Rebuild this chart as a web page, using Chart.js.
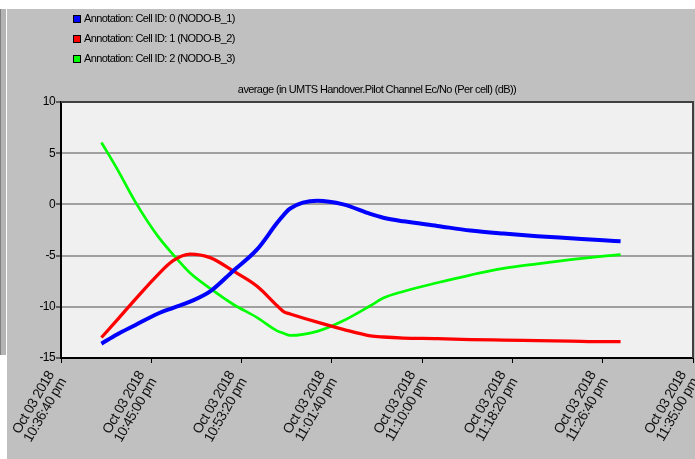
<!DOCTYPE html>
<html>
<head>
<meta charset="utf-8">
<script src="https://cdn.jsdelivr.net/npm/chart.js@4.4.1/dist/chart.umd.min.js"></script>
<style>
  html, body { margin: 0; padding: 0; background: #fff; }
  #wrap { position: relative; width: 695px; height: 459px; }
</style>
</head>
<body>
<div id="wrap"><canvas id="myLineChart" width="695" height="459"></canvas></div>
<script>
// dados (tempo em segundos desde a meia-noite, 03/10/2018)
const tempos = [81624, 81710, 81810, 81932, 82021, 82115, 82226, 82353, 82486, 82597, 82635, 82669,
  82819, 82963, 83113, 83185, 83296, 83484, 83667, 83850, 84038, 84221, 84404, 84499];

const cell0 = [-13.6, -12.7, -11.8, -10.7, -10.1, -9.5, -8.5, -6.5, -4.4, -1.8, -1.0, -0.4,
  0.35, 0.0, -0.93, -1.3, -1.65, -2.1, -2.55, -2.85, -3.1, -3.3, -3.5, -3.6];
const cell1 = [-13.0, -11.3, -9.3, -6.95, -5.5, -4.85, -5.2, -6.5, -8.0, -9.9, -10.5, -10.7,
  -11.5, -12.2, -12.83, -12.95, -13.05, -13.1, -13.2, -13.25, -13.3, -13.35, -13.4, -13.4];
const cell2 = [6.05, 3.5, 0.3, -3.0, -4.9, -6.7, -8.2, -9.75, -11.05, -12.35, -12.6, -12.8,
  -12.4, -11.37, -9.9, -9.15, -8.5, -7.65, -6.9, -6.25, -5.8, -5.4, -5.05, -4.9];

const nomes = ['Annotation: Cell ID: 0 (NODO-B_1)', 'Annotation: Cell ID: 1 (NODO-B_2)', 'Annotation: Cell ID: 2 (NODO-B_3)'];
const titulo = 'average (in UMTS Handover.Pilot Channel Ec/No (Per cell) (dB))';
const dataLabel = 'Oct 03 2018';
const xMin = 81400, xMax = 84900, xStep = 500;
const yMin = -15, yMax = 10, yStep = 5;

const fonte = '"Liberation Sans", Arial, sans-serif';

function pontos(valores) {
  return valores.map((v, i) => ({ x: tempos[i], y: v }));
}

function hora(seg) {
  let h = Math.floor(seg / 3600);
  const m = Math.floor((seg % 3600) / 60);
  const s = seg % 60;
  const suf = h >= 12 ? 'pm' : 'am';
  h = h % 12 || 12;
  return h + ':' + String(m).padStart(2, '0') + ':' + String(s).padStart(2, '0') + ' ' + suf;
}

// fundo cinza, area do grafico, legenda e titulo
const molduraPlugin = {
  id: 'moldura',
  beforeLayout(chart) {
    chart.ctx.letterSpacing = '-0.6px';
  },
  beforeDraw(chart) {
    const ctx = chart.ctx;
    const a = chart.chartArea;
    ctx.letterSpacing = '-0.6px';
    ctx.save();
    ctx.fillStyle = '#fff';
    ctx.fillRect(0, 0, chart.width, chart.height);
    ctx.fillStyle = '#c0c0c0';
    ctx.fillRect(7, 9, chart.width - 7, chart.height - 9);
    ctx.fillStyle = '#b4b4b4';
    ctx.fillRect(0, 9, 6, 346);
    ctx.fillStyle = '#808080';
    ctx.fillRect(0, 9, 1, 346);
    ctx.fillStyle = '#f0f0f0';
    ctx.fillRect(a.left, a.top, a.right - a.left, a.bottom - a.top);
    ctx.restore();
  },
  beforeDatasetsDraw(chart) {
    const ctx = chart.ctx;
    const a = chart.chartArea;
    ctx.save();
    ctx.strokeStyle = '#404040';
    ctx.lineWidth = 2;
    ctx.beginPath();
    ctx.moveTo(a.left, a.top);
    ctx.lineTo(a.right, a.top);
    ctx.lineTo(a.right, a.bottom);
    ctx.stroke();
    ctx.restore();
  },
  afterDatasetsDraw(chart) {
    // rotulos do eixo x ficam mais espacados
    chart.ctx.letterSpacing = '0.4px';
  },
  afterDraw(chart) {
    const ctx = chart.ctx;
    const a = chart.chartArea;
    ctx.letterSpacing = '-0.6px';
    ctx.save();
    ctx.font = '11px ' + fonte;
    ctx.textBaseline = 'middle';
    chart.data.datasets.forEach((ds, i) => {
      const y = 19 + i * 20;
      ctx.fillStyle = ds.borderColor;
      ctx.fillRect(73, y - 4, 8, 8);
      ctx.strokeStyle = '#000';
      ctx.lineWidth = 1;
      ctx.strokeRect(73.5, y - 3.5, 7, 7);
      ctx.fillStyle = '#000';
      ctx.fillText(ds.label, 84, y);
    });
    ctx.textAlign = 'center';
    ctx.fillText(titulo, (a.left + a.right) / 2, 90);
    ctx.restore();
  }
};

const data = {
  datasets: [
    { label: nomes[0], data: pontos(cell0), borderColor: '#0000ff', borderWidth: 4 },
    { label: nomes[1], data: pontos(cell1), borderColor: '#ff0000', borderWidth: 3.3 },
    { label: nomes[2], data: pontos(cell2), borderColor: '#00ff00', borderWidth: 2.7 }
  ]
};

const options = {
  responsive: false,
  animation: false,
  layout: { padding: { left: 0, right: 2, top: 102, bottom: 0 } },
  elements: {
    point: { radius: 0 },
    line: { cubicInterpolationMode: 'monotone', fill: false }
  },
  plugins: { legend: { display: false }, tooltip: { enabled: false } },
  scales: {
    x: {
      type: 'linear',
      z: 1,
      min: xMin,
      max: xMax,
      afterFit: s => {
        s.height = 101;
        s.paddingLeft = 0;
        s.paddingRight = 0;
      },
      afterBuildTicks: s => {
        s.ticks = [];
        for (let v = xMin; v <= xMax; v += xStep) s.ticks.push({ value: v });
      },
      ticks: {
        color: '#111',
        font: { family: fonte, size: 14, lineHeight: 1.0 },
        minRotation: 60,
        maxRotation: 60,
        padding: 6,
        labelOffset: -10,
        autoSkip: false,
        callback: v => [dataLabel, hora(v)]
      },
      grid: { drawOnChartArea: false, tickLength: 5, tickColor: '#000', tickWidth: 1 },
      border: { color: '#000', width: 2 }
    },
    y: {
      min: yMin,
      max: yMax,
      afterFit: s => { s.width = 61; },
      ticks: {
        stepSize: yStep,
        color: '#000',
        font: { family: fonte, size: 12 },
        padding: 1
      },
      grid: {
        color: c => (c.tick.value === yMin || c.tick.value === yMax) ? 'rgba(0,0,0,0)' : '#a0a0a0',
        lineWidth: 2,
        tickLength: 5,
        tickColor: '#000',
        tickWidth: 1
      },
      border: { color: '#000', width: 2 }
    }
  }
};

var ctx = document.getElementById('myLineChart').getContext('2d');
var myLineChart = new Chart(ctx, {
  type: 'line',
  data: data,
  options: options,
  plugins: [molduraPlugin]
});
</script>
</body>
</html>
